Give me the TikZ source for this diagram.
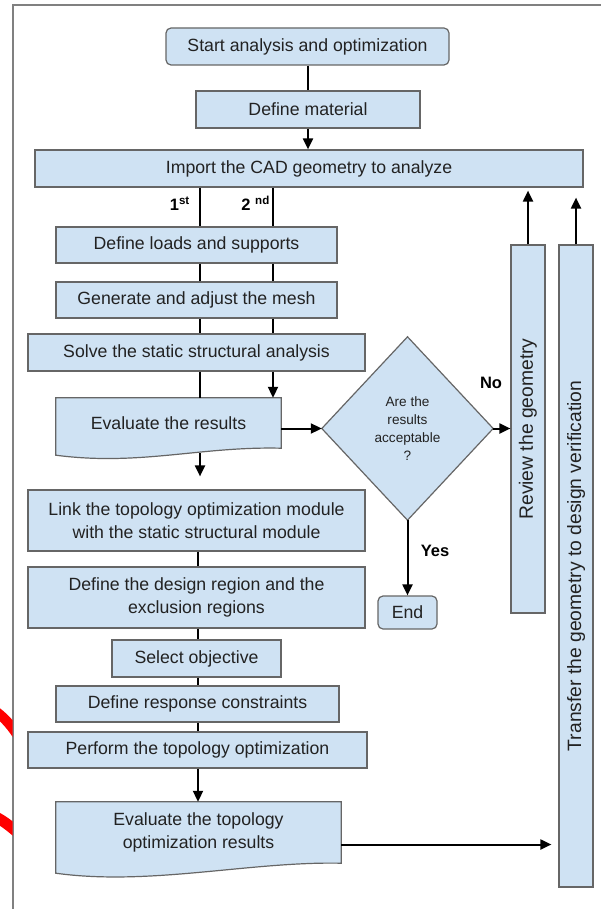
\documentclass[tikz,border=0pt]{standalone}
\usepackage{fontspec}
\usepackage{graphicx}
\setmainfont{Liberation Sans}
\usetikzlibrary{arrows.meta,calc,backgrounds}
\definecolor{boxfill}{HTML}{CFE2F3}
\definecolor{boxline}{HTML}{666666}
\definecolor{txt}{HTML}{222222}
\definecolor{framecol}{HTML}{808080}
\newcommand\mainfs{\fontsize{17.7}{23.5}\selectfont}
\newcommand\vertfs{\fontsize{19.3}{23.5}\selectfont}
\newcommand\smallfs{\fontsize{13.6}{17.8}\selectfont}
\newcommand\lblfs{\fontsize{16.5}{20}\selectfont\bfseries}
\begin{document}
\begin{tikzpicture}[x=1pt,y=-1pt,
 box/.style={draw=boxline, fill=boxfill, line width=1.2pt, inner sep=0pt, text=txt, font=\mainfs, align=center},
 rbox/.style={box, rounded corners=5pt},
 ghost/.style={inner sep=0pt, text=txt, font=\mainfs, align=center},
 doc/.style={draw=boxline, fill=boxfill, line width=1.2pt},
 conn/.style={line width=2pt, black},
 arr/.style={conn, -{Triangle[length=11pt,width=10pt]}},
 lbl/.style={font=\lblfs, text=black, inner sep=0pt},
]
\useasboundingbox (0,0) rectangle (601,909);

% frame remains
\draw[framecol, line width=1.5pt] (601,5) -- (13,5) -- (13,909);
\begin{scope}
 \clip (0,0) rectangle (12.5,909);
 \draw[red, line width=10pt] (-6,710) .. controls (2,716) and (9,722) .. (18,736);
 \draw[red, line width=11pt] (-6,816) .. controls (2,820) and (9,825) .. (18,833);
\end{scope}

\coordinate (A) at (200,0);
\coordinate (B) at (273,0);
\coordinate (C) at (198,0);

% nodes
\node[rbox, minimum width=283pt, minimum height=37pt] (start) at (307.5,46.5) {Start analysis and optimization};
\node[box, minimum width=224pt, minimum height=37pt] (mat) at (308,109.5) {Define material};
\node[box, minimum width=548pt, minimum height=37pt] (imp) at (309,168.5) {Import the CAD geometry to analyze};
\node[box, minimum width=281pt, minimum height=36pt] (loads) at (196.5,245) {Define loads and supports};
\node[box, minimum width=281pt, minimum height=36pt] (mesh) at (196.5,300) {Generate and adjust the mesh};
\node[box, minimum width=337pt, minimum height=37pt] (solve) at (196.5,352.5) {Solve the static structural analysis};
\node[ghost, minimum width=225pt, minimum height=50pt] (eval) at (168.5,423) {Evaluate the results};
\node[ghost, minimum width=171pt, minimum height=183pt, font=\smallfs] (dia) at (407.5,428.5) {Are the\\results\\acceptable\\?};
\node[rbox, minimum width=59pt, minimum height=33pt] (end) at (407.5,612.5) {End};
\node[box, minimum width=34pt, minimum height=368pt, font=\vertfs] (review) at (528,429) {\rotatebox{90}{Review the geometry}};
\node[box, minimum width=34pt, minimum height=642pt, font=\vertfs] (transfer) at (576,566) {\rotatebox{90}{Transfer the geometry to design verification}};
\node[box, minimum width=337pt, minimum height=61pt] (link) at (196.5,520.5) {Link the topology optimization module\\with the static structural module};
\node[box, minimum width=337pt, minimum height=61pt] (design) at (196.5,597.5) {Define the design region and the\\exclusion regions};
\node[box, minimum width=169pt, minimum height=37pt] (select) at (196.5,658.5) {Select objective};
\node[box, minimum width=283pt, minimum height=36pt] (resp) at (197.5,704) {Define response constraints};
\node[box, minimum width=339pt, minimum height=36pt] (perf) at (197.5,750) {Perform the topology optimization};
\node[ghost, minimum width=285pt, minimum height=61pt] (evtopo) at (198.5,832.5) {Evaluate the topology\\optimization results};

\node[lbl, anchor=base east] (first) at (190,211) {1\textsuperscript{st}};
\node[lbl, anchor=base east] (second) at (270,211) {2 \textsuperscript{nd}};
\node[lbl] (no) at (491,383) {No};
\node[lbl] (yes) at (435,551) {Yes};

\begin{scope}[on background layer]
 \fill[white] (0,0) rectangle (601,909);
 \path[doc] (eval.north west) -- (eval.north east) -- (eval.south east)
   .. controls +(-81,-2) and +(84,11) .. ($(eval.south west)+(0,7)$) -- cycle;
 \path[doc] (evtopo.north west) -- (evtopo.north east) -- (evtopo.south east)
   .. controls +(-91,-2) and +(94,13) .. ($(evtopo.south west)+(0,10)$) -- cycle;
 \path[doc] (dia.north) -- (dia.east) -- (dia.south) -- (dia.west) -- cycle;
\end{scope}

% connectors
\draw[conn] (start.south -| mat.north) -- (mat.north);
\draw[arr] (mat.south) -- (imp.north -| mat.south);
\foreach \p in {A,B} {
  \draw[conn] (imp.south -| \p) -- (loads.north -| \p);
  \draw[conn] (loads.south -| \p) -- (mesh.north -| \p);
  \draw[conn] (mesh.south -| \p) -- (solve.north -| \p);
}
\draw[conn] (solve.south -| A) -- (eval.north -| A);
\draw[arr] (solve.south -| B) -- (eval.north -| B);
\draw[arr, shorten >=13pt] ($(eval.south -| A)+(0,5)$) -- (link.north -| A);
\draw[arr] (eval.east |- dia.west) -- (dia.west);
\draw[arr] (dia.east) -- (dia.east -| review.west);
\draw[arr] (dia.south) -- (end.north);
\draw[arr, shorten >=3pt] (review.north) -- (review.north |- imp.south);
\draw[arr, shorten >=10pt] (transfer.north) -- (transfer.north |- imp.south);
\draw[conn] (link.south -| C) -- (design.north -| C);
\draw[conn] (design.south -| C) -- (select.north -| C);
\draw[conn] (select.south -| C) -- (resp.north -| C);
\draw[conn] (resp.south -| C) -- (perf.north -| C);
\draw[arr] (perf.south -| C) -- (evtopo.north -| C);
\draw[arr, shorten >=7pt] ($(evtopo.east)+(0,12)$) -- ($(evtopo.east -| transfer.west)+(0,12)$);
\end{tikzpicture}
\end{document}
